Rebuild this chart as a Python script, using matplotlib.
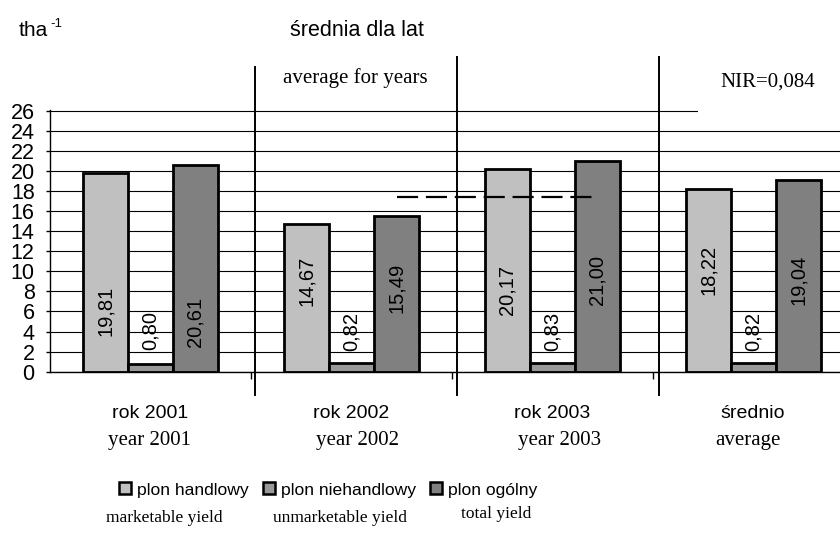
import numpy as np
import matplotlib
matplotlib.use('Agg')
import matplotlib.pyplot as plt
from matplotlib.patches import Rectangle

# data
categories = ['rok 2001', 'rok 2002', 'rok 2003', 'średnio']
categories_en = ['year 2001', 'year 2002', 'year 2003', 'average']
marketable = [19.81, 14.67, 20.17, 18.22]
unmarketable = [0.80, 0.82, 0.83, 0.82]
total = [20.61, 15.49, 21.00, 19.04]
series_pl = ['plon handlowy', 'plon niehandlowy', 'plon ogólny']
series_en = ['marketable yield', 'unmarketable yield', 'total yield']
nir_level = 17.4

# where the value labels sit inside the bars (axis units)
label_y = [[6.1, 4.1, 5.0],
           [9.0, 4.0, 8.3],
           [8.1, 4.0, 9.1],
           [10.1, 4.0, 9.1]]

SANS = 'Liberation Sans'
SERIF = 'Liberation Serif'
W, H = 840, 535

fig = plt.figure(figsize=(8.4, 5.35), dpi=100)
ax = fig.add_axes([50 / W, 1 - 371.7 / H, 803.5 / W, 261.7 / H])

colors = ['#c0c0c0', '#999999', '#808080']
bw = 0.224
x = np.arange(len(categories))
bars = []
for k, vals in enumerate([marketable, unmarketable, total]):
    b = ax.bar(x + (k - 1) * bw, vals, bw, color=colors[k],
               edgecolor='black', linewidth=2, zorder=3, label=series_pl[k])
    bars.append(b)
    for i, v in enumerate(vals):
        ax.text(x[i] + (k - 1) * bw, label_y[i][k], f'{v:.2f}'.replace('.', ','),
                rotation=90, ha='center', va='center', fontsize=14.5,
                family=SANS, zorder=4)

ax.set_xlim(-0.5, 3.5)
ax.set_ylim(0, 26.05)
ax.set_yticks(np.arange(0, 27, 2))
ax.set_yticklabels([str(v) for v in range(0, 27, 2)], family=SANS, fontsize=15.5)
ax.set_xticks(x)
ax.set_xticklabels(categories, family=SANS, fontsize=14)
ax.set_xticks([0.5, 1.5, 2.5], minor=True)
ax.tick_params(axis='x', which='major', length=0, pad=24)
ax.tick_params(axis='x', which='minor', length=5, direction='out', width=1)
ax.tick_params(axis='y', length=3, direction='out', pad=8, width=1)
ax.yaxis.grid(True, color='black', linewidth=0.8)
ax.set_axisbelow(True)
for s in ['top', 'right']:
    ax.spines[s].set_visible(False)
for s in ['left', 'bottom']:
    ax.spines[s].set_linewidth(1)
    ax.spines[s].set_zorder(5)

# separators between the year groups
for xs, ytop in [(0.522, 30.35), (1.527, 31.35), (2.532, 31.35)]:
    ax.plot([xs, xs], [-2.32, ytop], color='black', lw=1.4, clip_on=False, zorder=6)

# NIR dashed line
ax.plot([1.227, 2.214], [nir_level, nir_level], color='black', lw=1.6,
        dashes=(9.5, 3.5), zorder=6)

# white box behind NIR text
fig.patches.append(Rectangle((698 / W, 1 - 114 / H), 142 / W, 58 / H,
                             transform=fig.transFigure, facecolor='white',
                             edgecolor='none', zorder=1))

def ft(px, py, s, **kw):
    fig.text(px / W, 1 - py / H, s, **kw)

ft(19, 30, 'tha', family=SANS, fontsize=15, va='center')
ft(50, 24, '-1', family=SANS, fontsize=9.5, va='center')
ft(357, 31, 'średnia dla lat', family=SANS, fontsize=15.5, ha='center', va='center')
ft(355, 78, 'average for years', family=SERIF, fontsize=15, ha='center', va='center')
ft(768, 82, 'NIR=0,084', family=SERIF, fontsize=15, ha='center', va='center')

for px, s in zip([149, 358, 560, 748], categories_en):
    ft(px, 440, s, family=SERIF, fontsize=15, ha='center', va='center')

leg = fig.legend(handles=bars, labels=series_pl, loc='center left',
                 bbox_to_anchor=(119 / W, 1 - 490 / H), ncol=3, frameon=False,
                 prop={'family': SANS, 'size': 12.6}, handlelength=0.68,
                 handleheight=0.68, handletextpad=0.35, columnspacing=0.8,
                 borderpad=0, borderaxespad=0)
for h in leg.legend_handles:
    h.set_linewidth(1.8)

for px, py, s in zip([164, 340, 496], [518, 518, 514], series_en):
    ft(px, py, s, family=SERIF, fontsize=12.5, ha='center', va='center')

plt.savefig('out.png', dpi=100)
